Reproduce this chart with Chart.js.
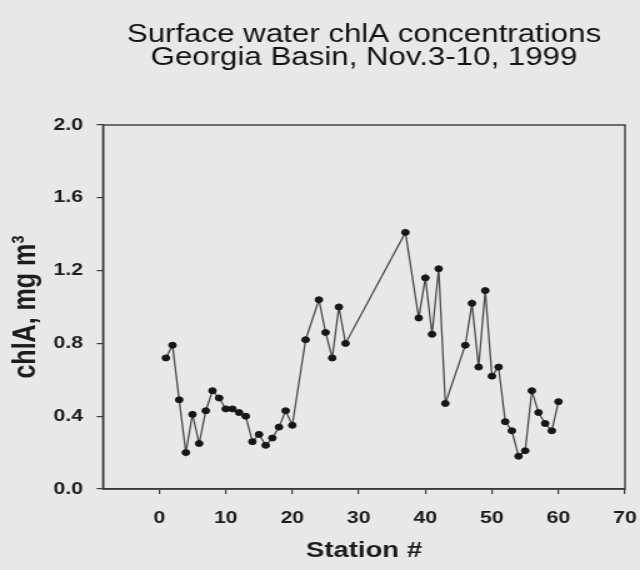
<!DOCTYPE html>
<html>
<head>
<meta charset="utf-8">
<script src="https://cdn.jsdelivr.net/npm/chart.js@4.4.1/dist/chart.umd.min.js"></script>
<style>
  html, body { margin: 0; padding: 0; background: #e8e8e8; overflow: hidden; }
  body { width: 640px; height: 570px; position: relative; }
  /* the figure is laid out at 512 px wide and widened to the full 640 px page */
  #wrap { position: absolute; left: 0; top: 0; width: 512px; height: 570px;
          transform: scaleX(1.25); transform-origin: 0 0; }
</style>
</head>
<body>
<div id="wrap"><canvas id="chart"></canvas></div>
<script>
// Surface water chlorophyll a by station, Georgia Basin cruise, Nov. 3-10, 1999
const STATIONS = [1, 2, 3, 4, 5, 6, 7, 8, 9, 10, 11, 12, 13, 14, 15, 16, 17, 18, 19, 20,
                  22, 24, 25, 26, 27, 28, 37, 39, 40, 41, 42, 43, 46, 47, 48, 49,
                  50, 51, 52, 53, 54, 55, 56, 57, 58, 59, 60];
const CHLA = [0.72, 0.79, 0.49, 0.20, 0.41, 0.25, 0.43, 0.54, 0.50, 0.44, 0.44, 0.42, 0.40,
              0.26, 0.30, 0.24, 0.28, 0.34, 0.43, 0.35,
              0.82, 1.04, 0.86, 0.72, 1.00, 0.80, 1.41, 0.94, 1.16, 0.85, 1.21, 0.47,
              0.79, 1.02, 0.67, 1.09, 0.62, 0.67, 0.37, 0.32, 0.18, 0.21, 0.54, 0.42,
              0.36, 0.32, 0.48];
const X_TICKS = [0, 10, 20, 30, 40, 50, 60, 70];
const Y_TICKS = [0.0, 0.4, 0.8, 1.2, 1.6, 2.0];
const TITLE_LINES = ['Surface water chlA concentrations', 'Georgia Basin, Nov.3-10, 1999'];

const points = STATIONS.map((s, i) => ({ x: s, y: CHLA[i] }));

// closes the plot frame on the top and right sides
const frame = {
  id: 'frame',
  afterDraw(chart) {
    const { ctx, chartArea: a } = chart;
    ctx.save();
    ctx.strokeStyle = '#3a3a3a';
    ctx.lineWidth = 1.4;
    ctx.strokeRect(a.left, a.top, a.right - a.left, a.bottom - a.top);
    ctx.restore();
  }
};

const tickFont = { family: 'Liberation Sans, Arial, sans-serif', size: 17, weight: 'bold' };

new Chart(document.getElementById('chart'), {
  type: 'line',
  data: {
    datasets: [{
      data: points,
      borderColor: '#4a4a4a',
      borderWidth: 1.3,
      tension: 0,
      pointRadius: 3,
      pointBackgroundColor: '#161616',
      pointBorderColor: '#161616',
      pointBorderWidth: 1
    }]
  },
  options: {
    responsive: true,
    maintainAspectRatio: false,
    animation: false,
    layout: { padding: { left: 0, right: 12, top: 0, bottom: 0 } },
    plugins: {
      legend: { display: false },
      tooltip: { enabled: false },
      title: {
        display: true,
        fullSize: false,
        text: TITLE_LINES,
        color: '#141414',
        font: { family: 'Liberation Sans, Arial, sans-serif', size: 25, weight: 'normal', lineHeight: 0.92 },
        padding: { top: 24, bottom: 55 }
      }
    },
    scales: {
      x: {
        type: 'linear',
        min: -8.45,
        max: 70,
        afterBuildTicks(scale) { scale.ticks = X_TICKS.map(v => ({ value: v })); },
        afterFit(scale) { scale.height = 81; scale.paddingLeft = 0; scale.paddingRight = 0; },
        ticks: { color: '#1c1c1c', font: tickFont, padding: 14, maxRotation: 0,
                 callback: v => String(v) },
        grid: { drawOnChartArea: false, drawTicks: true, tickLength: 5, color: '#3a3a3a', lineWidth: 1.2 },
        border: { display: true, color: '#3a3a3a', width: 1.4 },
        title: {
          display: true,
          text: 'Station #',
          color: '#1c1c1c',
          font: { family: 'Liberation Sans, Arial, sans-serif', size: 22, weight: 'bold' },
          padding: { top: 0, bottom: 6 }
        }
      },
      y: {
        min: 0,
        max: 2,
        afterBuildTicks(scale) { scale.ticks = Y_TICKS.map(v => ({ value: v })); },
        afterFit(scale) { scale.width = 82.4; scale.paddingTop = 0; scale.paddingBottom = 0; },
        ticks: { color: '#1c1c1c', font: tickFont, padding: 11,
                 callback: v => Number(v).toFixed(1) },
        grid: { drawOnChartArea: false, drawTicks: true, tickLength: 5, color: '#3a3a3a', lineWidth: 1.2 },
        border: { display: true, color: '#3a3a3a', width: 1.4 },
        title: {
          display: true,
          text: 'chlA, mg m³',
          color: '#1c1c1c',
          font: { family: 'Liberation Sans, Arial, sans-serif', size: 25, weight: 'bold' },
          padding: { top: 6, bottom: 0 }
        }
      }
    }
  },
  plugins: [frame]
});
</script>
</body>
</html>
